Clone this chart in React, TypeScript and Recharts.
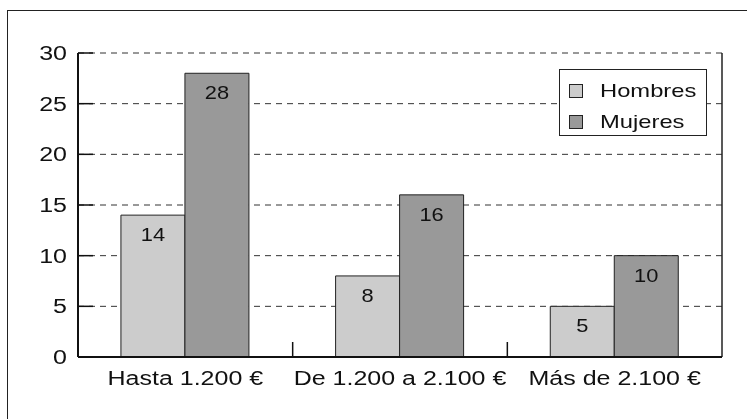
import { BarChart, Bar, XAxis, YAxis, CartesianGrid, Legend, LabelList } from "recharts";

const categories = ["Hasta 1.200 €", "De 1.200 a 2.100 €", "Más de 2.100 €"];
const hombres = [14, 8, 5];
const mujeres = [28, 16, 10];
const yTicks = [0, 5, 10, 15, 20, 25, 30];

const seriesNames = { hombres: "Hombres", mujeres: "Mujeres" };
const colors = { hombres: "#cccccc", mujeres: "#999999" };

const FONT = "'Liberation Sans', Arial, Helvetica, sans-serif";
const STRETCH = 1.25;
const Y_TICK_MARGIN = 11;
const INNER_TICK = 15;

const data = categories.map((name, i) => ({
  name,
  hombres: hombres[i],
  mujeres: mujeres[i],
}));

// text in the reference is wide, so scale glyphs horizontally
function XTick(props: any) {
  const { x, y, payload } = props;
  const edge = x - (payload.offset || 0);
  return (
    <g>
      {/* short inward tick at the left boundary of each category */}
      <line x1={edge} x2={edge} y1={y} y2={y - INNER_TICK} stroke="#111" strokeWidth={1.5} />
      <text
        transform={`translate(${x},${y + 28}) scale(${STRETCH},1)`}
        textAnchor="middle"
        fontFamily={FONT}
        fontSize={20}
        fill="#111"
      >
        {payload.value}
      </text>
    </g>
  );
}

function YTick(props: any) {
  const { x, y, payload } = props;
  const axisX = x + Y_TICK_MARGIN;
  return (
    <g>
      <line x1={axisX} x2={axisX + INNER_TICK} y1={y} y2={y} stroke="#111" strokeWidth={1.5} />
      <text
        transform={`translate(${x},${y + 7}) scale(${STRETCH},1)`}
        textAnchor="end"
        fontFamily={FONT}
        fontSize={20}
        fill="#111"
      >
        {payload.value}
      </text>
    </g>
  );
}

function BarValue(props: any) {
  const { x, y, width, value } = props;
  return (
    <text
      transform={`translate(${x + width / 2},${y + 26}) scale(${STRETCH},1)`}
      textAnchor="middle"
      fontFamily={FONT}
      fontSize={17.5}
      fill="#111"
    >
      {value}
    </text>
  );
}

function LegendBox(props: any) {
  const { payload = [] } = props;
  return (
    <div
      style={{
        border: "1.5px solid #222",
        background: "#fff",
        boxSizing: "border-box",
        height: 67,
        padding: "8px 0 0 9px",
        fontFamily: FONT,
        fontSize: 19,
        color: "#111",
      }}
    >
      {payload.map((p: any) => (
        <div key={p.value} style={{ display: "flex", alignItems: "center", height: 26, marginBottom: 5 }}>
          <span
            style={{
              width: 12,
              height: 12,
              background: p.color,
              border: "1px solid #222",
              marginRight: 17,
              display: "inline-block",
            }}
          />
          <span style={{ display: "inline-block", transform: `scaleX(${STRETCH})`, transformOrigin: "left center" }}>
            {p.value}
          </span>
        </div>
      ))}
    </div>
  );
}

export default function App() {
  return (
    <>
      <div
        style={{
          position: "fixed",
          left: 7,
          top: 10,
          width: 740,
          height: 409,
          borderLeft: "1.5px solid #222",
          borderTop: "1.5px solid #222",
          boxSizing: "border-box",
        }}
      />
      <div style={{ position: "fixed", left: 0, top: 0 }}>
        <BarChart
          width={747}
          height={419}
          data={data}
          margin={{ top: 53, right: 25, bottom: 32, left: 18 }}
          barCategoryGap="20%"
          barGap={0}
        >
          <CartesianGrid
            xAxisId="cat"
            yAxisId="v"
            vertical={false}
            stroke="#333"
            strokeDasharray="6 5"
          />
          {/* solid right edge of the plot */}
          <CartesianGrid
            xAxisId="cat"
            yAxisId="v"
            horizontal={false}
            stroke="#222"
            strokeWidth={1.5}
            verticalCoordinatesGenerator={({ offset }: any) => [offset.left + offset.width]}
          />
          <XAxis
            xAxisId="cat"
            dataKey="name"
            height={30}
            tickLine={false}
            tickSize={0}
            tickMargin={0}
            axisLine={{ stroke: "#111", strokeWidth: 2 }}
            tick={XTick}
            interval={0}
          />
          <YAxis
            yAxisId="v"
            domain={[0, 30]}
            ticks={yTicks}
            width={60}
            tickLine={false}
            tickSize={0}
            tickMargin={Y_TICK_MARGIN}
            axisLine={{ stroke: "#111", strokeWidth: 2 }}
            tick={YTick}
          />
          <Legend
            layout="horizontal"
            verticalAlign="middle"
            align="center"
            wrapperStyle={{ left: 559, top: 69, width: 148 }}
            content={LegendBox}
          />
          <Bar
            xAxisId="cat"
            yAxisId="v"
            dataKey="hombres"
            name={seriesNames.hombres}
            fill={colors.hombres}
            stroke="#222"
            strokeWidth={1}
            isAnimationActive={false}
          >
            <LabelList dataKey="hombres" content={BarValue} />
          </Bar>
          <Bar
            xAxisId="cat"
            yAxisId="v"
            dataKey="mujeres"
            name={seriesNames.mujeres}
            fill={colors.mujeres}
            stroke="#222"
            strokeWidth={1}
            isAnimationActive={false}
          >
            <LabelList dataKey="mujeres" content={BarValue} />
          </Bar>
        </BarChart>
      </div>
    </>
  );
}
